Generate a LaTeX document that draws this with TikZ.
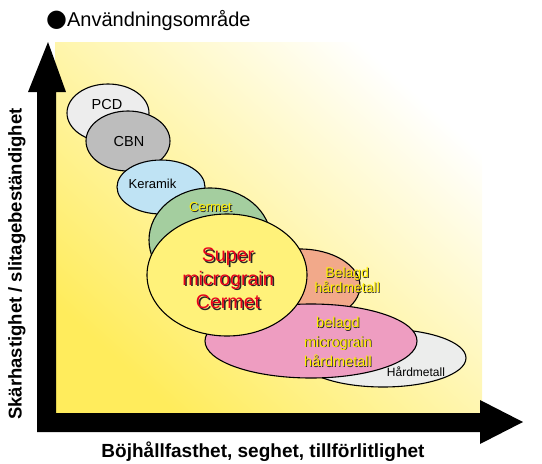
\documentclass[tikz,border=0pt]{standalone}
\usepackage{fontspec}
\setmainfont{Liberation Sans}
\newfontfamily\symfont{DejaVu Sans}
\definecolor{zoneyellow}{HTML}{FFEC5C}
\definecolor{pcdgray}{HTML}{EDEDED}
\definecolor{cbngray}{HTML}{BDBDBD}
\definecolor{keramikblue}{HTML}{BFE3F4}
\definecolor{cermetgreen}{HTML}{A4CE9F}
\definecolor{salmon}{HTML}{F2A98A}
\definecolor{pinkzone}{HTML}{EE9DC1}
\definecolor{hmgray}{HTML}{ECEDEC}
\definecolor{smyellow}{HTML}{FFF27A}
\definecolor{labelyellow}{HTML}{FFEE00}
\definecolor{labelred}{HTML}{E8001C}
\begin{document}
\begin{tikzpicture}[x=1pt,y=-1pt,
  zone/.style={draw=black, line width=1.1pt},
  plain/.style={inner sep=0pt, align=center},
  shadowtxt/.style={inner sep=0pt, align=center, text=black!85},
  axisarrow/.style={fill=black, draw=none}]
\useasboundingbox (0,0) rectangle (542,464);

% background zone
\shade[shading=axis, bottom color=zoneyellow, middle color=zoneyellow!35!white, top color=white, shading angle=-42]
  (55,42) rectangle (482,414);

% axes
\fill[axisarrow] (37,432) -- (37,92) -- (28,92) -- (48,42) -- (66,92) -- (56,92) -- (56,413)
  -- (480,413) -- (480,400) -- (523,422) -- (480,444) -- (480,432) -- cycle;

% material zones
\draw[zone, fill=pcdgray] (108,113) ellipse [x radius=41, y radius=29];
\draw[zone, fill=cbngray] (128,141) ellipse [x radius=42, y radius=30];
\draw[zone, fill=keramikblue] (161,187) ellipse [x radius=44, y radius=27];
\draw[zone, fill=cermetgreen] (210,240) ellipse [x radius=61, y radius=52];
\draw[zone, fill=hmgray] (383,358) ellipse [x radius=83, y radius=29];
\draw[zone, fill=salmon] (300,286) ellipse [x radius=60, y radius=37];
\draw[zone, fill=pinkzone] (311,341) ellipse [x radius=106, y radius=37];
\draw[zone, fill=smyellow] (227,275) ellipse [x radius=80, y radius=61];

% labels
\node[plain, font=\fontsize{14.5}{16}\selectfont] (pcd) at (107,104.5) {PCD};
\node[plain, font=\fontsize{14.5}{16}\selectfont] (cbn) at (129,142) {CBN};
\node[plain, font=\fontsize{13}{14}\selectfont] (keramik) at (152.5,184) {Keramik};

\node[shadowtxt, font=\fontsize{13}{14}\selectfont] (cermetS) at (211.5,207.8) {Cermet};
\node[shadowtxt, font=\fontsize{13}{14}\selectfont, text=labelyellow] (cermet) at (210.5,207) {Cermet};

\node[shadowtxt, font=\fontsize{19.6}{23.5}\selectfont] (superS) at (229.7,280.2) {Super\\micrograin\\Cermet};
\node[shadowtxt, font=\fontsize{19.6}{23.5}\selectfont, text=labelred] (super) at (228,278.5) {Super\\micrograin\\Cermet};

\node[shadowtxt, font=\fontsize{14}{12}\selectfont] (belagdS) at (348,281) {Belagd\\hårdmetall};
\node[shadowtxt, font=\fontsize{14}{12}\selectfont, text=labelyellow] (belagd) at (347.2,280.2) {Belagd\\hårdmetall};

\node[shadowtxt, font=\fontsize{14.5}{19.5}\selectfont] (bmhS) at (338.8,342.8) {belagd\\micrograin\\hårdmetall};
\node[shadowtxt, font=\fontsize{14.5}{19.5}\selectfont, text=labelyellow] (bmh) at (338,342) {belagd\\micrograin\\hårdmetall};

\node[plain, font=\fontsize{12}{14}\selectfont] (hm) at (416,372) {Hårdmetall};

% titles
\node[inner sep=0pt, anchor=base west, font=\fontsize{20}{22}\selectfont] (title) at (46,26) {{\symfont\fontsize{24}{24}\selectfont ●}Användningsområde};
\node[inner sep=0pt, rotate=90, font=\bfseries\fontsize{18.5}{21}\selectfont] (ylabel) at (17,264) {Skärhastighet / slitagebeständighet};
\node[inner sep=0pt, font=\bfseries\fontsize{19}{21}\selectfont] (xlabel) at (263,452) {Böjhållfasthet, seghet, tillförlitlighet};
\end{tikzpicture}
\end{document}
